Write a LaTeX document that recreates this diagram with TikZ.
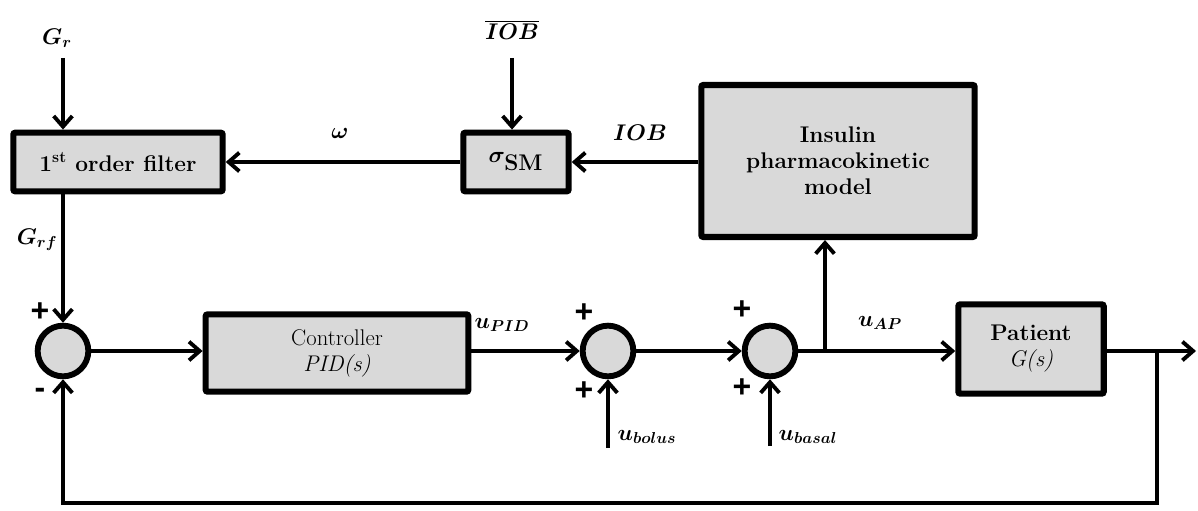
\RequirePackage{fix-cm}
\documentclass[tikz,border=0pt]{standalone}
\usepackage{bm}
\usepackage{fontspec}
\newfontfamily\signfont{Liberation Sans}
\usetikzlibrary{arrows.meta,shadows}
\definecolor{BoxGray}{RGB}{217,217,217}

\tikzset{
  blk/.style={draw,line width=4.6pt,fill=BoxGray,rounded corners=1.5pt,align=center,inner sep=0pt,
    font=\fontsize{17}{19.5}\selectfont,
    drop shadow={opacity=0.3,shadow xshift=1.5pt,shadow yshift=-1.5pt}},
  sumnode/.style={circle,draw,line width=4.4pt,fill=BoxGray,minimum size=38pt,inner sep=0pt},
  sig/.style={line width=2.9pt,-{Straight Barb[length=8pt,width=14pt]}},
  sgn/.style={font=\signfont\fontsize{24}{24}\selectfont\bfseries},
}

\begin{document}
\begin{tikzpicture}[x=0.75pt,y=-0.75pt,font=\fontsize{17}{19}\selectfont]
  \useasboundingbox (0,0) rectangle (1198,510);

  % blocks
  \node[blk,minimum width=157pt,minimum height=44pt] (filter) at (118,162) {\bfseries 1\textsuperscript{st} order filter};
  \node[blk,minimum width=79pt,minimum height=44pt] (sigma) at (516,162) {$\bm{\sigma}_{\textbf{SM}}$};
  \node[blk,minimum width=205pt,minimum height=114pt] (pk) at (838,161) {\bfseries Insulin\\\bfseries pharmacokinetic\\\bfseries model};
  \node[blk,minimum width=197pt,minimum height=58pt] (ctrl) at (337,353) {Controller\\\itshape PID(s)};
  \node[blk,minimum width=109pt,minimum height=67pt] (patient) at (1031,349) {\bfseries Patient\\\itshape G(s)};

  % summing junctions
  \node[sumnode] (sumA) at (63,351) {};
  \node[sumnode] (sumB) at (608,351) {};
  \node[sumnode] (sumC) at (770,351) {};

  % inputs and taps
  \coordinate (gr) at (63,58);
  \coordinate (iobbar) at (512,58);
  \coordinate (bolus) at (608,448);
  \coordinate (basal) at (770,446);
  \coordinate (branch) at (825,351);
  \coordinate (fbtap) at (1157,351);
  \coordinate (out) at (1196,351);

  % connectors
  \draw[sig] (gr) -- (gr |- filter.north);
  \draw[sig] (iobbar) -- (iobbar |- sigma.north);
  \draw[sig] (pk.west |- sigma.east) -- (sigma.east);
  \draw[sig] (sigma.west) -- (filter.east |- sigma.west);
  \draw[sig] (sumA |- filter.south) -- (sumA.north);
  \draw[sig] (sumA.east) -- (ctrl.west |- sumA.east);
  \draw[sig] (ctrl.east |- sumB.west) -- (sumB.west);
  \draw[sig] (bolus) -- (sumB.south);
  \draw[sig] (sumB.east) -- (sumC.west);
  \draw[sig] (basal) -- (sumC.south);
  \draw[sig] (sumC.east) -- (patient.west |- sumC.east);
  \draw[sig] (branch) -- (branch |- pk.south);
  \draw[sig] (patient.east |- out) -- (out);
  \draw[sig] (fbtap) -- (1157,503) -- (63,503) -- (sumA.south);

  % signal labels
  \node at (57,38) {$\bm{G_r}$};
  \node at (512,30) {$\bm{\overline{IOB}}$};
  \node at (340,133) {$\bm{\omega}$};
  \node at (640,133) {$\bm{IOB}$};
  \node at (37,240) {$\bm{G_{rf}}$};
  \node at (502,325) {$\bm{u_{PID}}$};
  \node at (647,437) {$\bm{u_{bolus}}$};
  \node at (808,437) {$\bm{u_{basal}}$};
  \node at (880,323) {$\bm{u_{AP}}$};

  % signs
  \node[sgn] at (40,312) {+};
  \node[sgn] at (40,393) {-};
  \node[sgn] at (584,313) {+};
  \node[sgn] at (584,391) {+};
  \node[sgn] at (742,310) {+};
  \node[sgn] at (742,388) {+};
\end{tikzpicture}
\end{document}
